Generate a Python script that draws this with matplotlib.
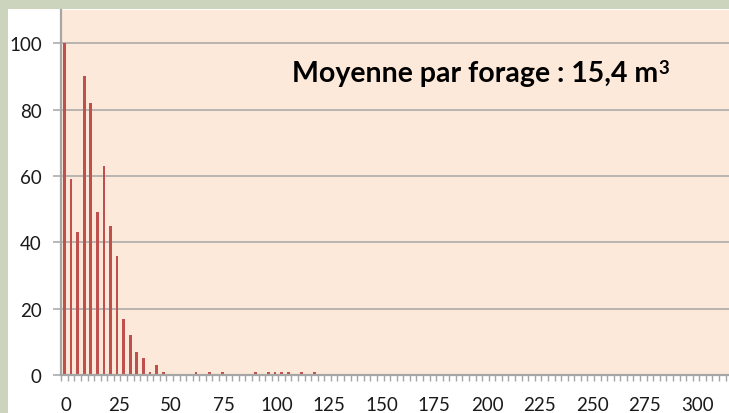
import numpy as np
from matplotlib import pyplot as plt
from matplotlib.patches import Rectangle

# Classes de volume (m3) : largeur de classe 3,125 m3
largeur_classe = 3.125
nb_forages = [100, 59, 43, 90, 82, 49, 63, 45, 36, 17, 12, 7, 5, 1, 3, 1,
              0, 0, 0, 0, 1, 0, 1, 0, 1, 0, 0, 0, 0, 1, 0, 1, 1, 1, 1, 0,
              1, 0, 1]
etiquettes_x = [0, 25, 50, 75, 100, 125, 150, 175, 200, 225, 250, 275, 300]
etiquettes_y = [0, 20, 40, 60, 80, 100]
texte_moyenne = "Moyenne par forage : 15,4 m"
exposant = "3"

W, H = 729, 414
fig = plt.figure(figsize=(W / 100, H / 100), dpi=100)
fig.patch.set_facecolor("#cdd4bd")
fig.patches.append(Rectangle((8 / W, 0), 1, (H - 10) / H, transform=fig.transFigure,
                             facecolor="white", edgecolor="none", zorder=-1))

ax = fig.add_axes([61 / W, (H - 376) / H, (W - 61) / W, (376 - 11) / H])
ax.set_facecolor("#fde9d9")

decalage = -0.7
n_classes = 102
x = np.arange(len(nb_forages)) * largeur_classe + decalage
ax.bar(x, nb_forages, width=1.3, color="#c0504d", zorder=3)

gris = "#a6a6a6"
ax.set_ylim(0, 110)
ax.set_xlim(decalage - largeur_classe / 2 - 0.1, 315)
ax.set_yticks(etiquettes_y)
ax.set_xticks(etiquettes_x)
ax.set_xticks(np.arange(n_classes) * largeur_classe + decalage - largeur_classe / 2, minor=True)
ax.grid(axis="y", color=gris, linewidth=1.1, zorder=1)
ax.set_axisbelow(True)

for cote in ["top", "right"]:
    ax.spines[cote].set_visible(False)
for cote in ["left", "bottom"]:
    ax.spines[cote].set_color(gris)
    ax.spines[cote].set_linewidth(1.6)
    ax.spines[cote].set_zorder(4)

ax.tick_params(axis="y", length=5.8, width=1.1, color=gris, pad=8, labelsize=13.5,
               labelcolor="#1a1a1a")
ax.tick_params(axis="x", which="major", length=0, pad=15, labelsize=13.5,
               labelcolor="#1a1a1a")
ax.tick_params(axis="x", which="minor", length=4.3, width=1.0, color=gris)
for lab in ax.get_xticklabels() + ax.get_yticklabels():
    lab.set_fontfamily("Lato")

t = fig.text(292 / W, (H - 82) / H, texte_moyenne, fontsize=20.5, fontweight="bold",
             fontfamily="Lato", color="black", ha="left", va="baseline")
ax.annotate(exposant, xy=(1, 1), xycoords=t, xytext=(0.3, 1), textcoords="offset points",
            fontsize=13.5, fontweight="bold", fontfamily="Lato", color="black",
            ha="left", va="top", annotation_clip=False)

fig.savefig("out.png", dpi=100, facecolor=fig.get_facecolor())
